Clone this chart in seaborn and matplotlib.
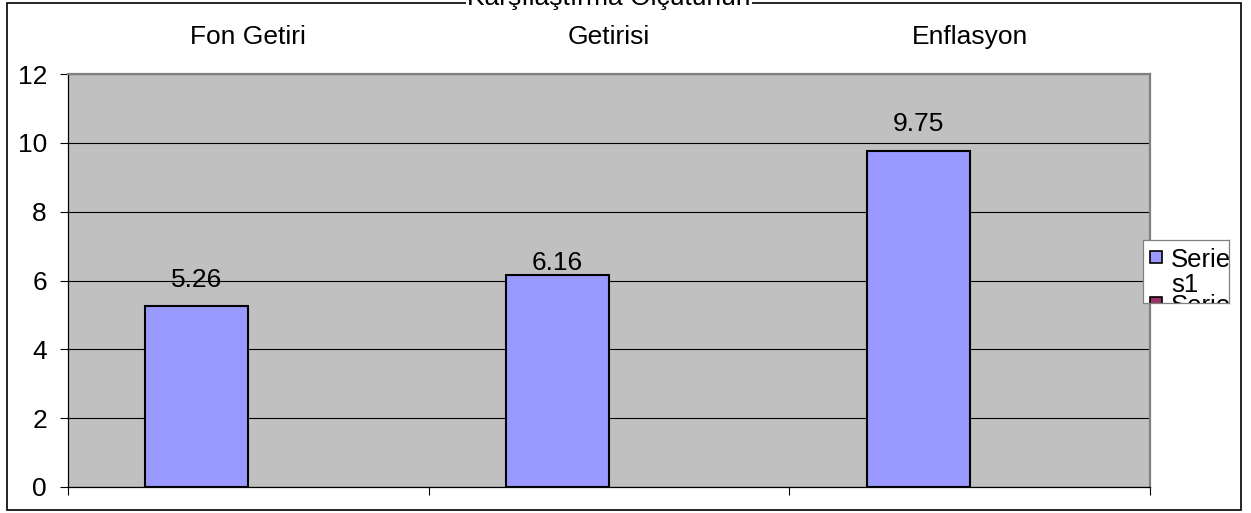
import matplotlib
matplotlib.use("Agg")
import matplotlib.pyplot as plt
import matplotlib.transforms as mtransforms
from matplotlib.patches import Rectangle
import numpy as np
import pandas as pd
import seaborn as sns

# ---- data ----
categories = ["Fon Getiri", "Karşılaştırma Ölçütünün\nGetirisi", "Enflasyon"]
series_names = ["Series1", "Series2"]
series1_values = [5.26, 6.16, 9.75]
series2_values = [np.nan, np.nan, np.nan]
value_labels = ["5.26", "6.16", "9.75"]
y_ticks = [0, 2, 4, 6, 8, 10, 12]
legend_lines = [["Serie", "s1"], ["Serie", "s2"]]

# ---- style ----
sns.set_style("white")
plt.rcParams["font.family"] = ["Liberation Sans", "DejaVu Sans"]
W, H = 1251, 513
FS = 19
bar_color = "#9999FF"
s2_color = "#993366"
plot_bg = "#C0C0C0"
gray_edge = "#808080"
label_offsets_px = [19, 5, 20]

fig = plt.figure(figsize=(W / 100, H / 100), dpi=100)
fig.patch.set_facecolor("white")

# outer chart border
border = Rectangle((7 / W, 1 - 510 / H), 1234 / W, 507 / H, transform=fig.transFigure,
                   fill=False, edgecolor="black", linewidth=1.2, zorder=-1)
fig.add_artist(border)

ax = fig.add_axes([68 / W, (H - 487) / H, (1150 - 68) / W, (487 - 74) / H])
ax.set_facecolor(plot_bg)

df = pd.DataFrame({
    "category": categories * 2,
    "series": [series_names[0]] * len(categories) + [series_names[1]] * len(categories),
    "value": series1_values + series2_values,
})

sns.barplot(data=df, x="category", y="value", hue="series", order=categories,
            hue_order=series_names, palette=[bar_color, s2_color], width=0.571,
            dodge=True, errorbar=None, edgecolor="black", linewidth=1.5,
            saturation=1, legend=False, ax=ax)

ax.set_xlim(-0.5, len(categories) - 0.5)
ax.set_ylim(0, 12)
ax.set_yticks(y_ticks)
ax.set_yticklabels([str(t) for t in y_ticks], fontsize=FS, color="black")
ax.set_xticks(np.arange(len(categories) + 1) - 0.5)
ax.set_xticklabels([""] * (len(categories) + 1))
ax.set_xlabel("")
ax.set_ylabel("")
ax.set_axisbelow(True)
ax.yaxis.grid(True, color="black", linewidth=0.8)
ax.xaxis.grid(False)
ax.tick_params(axis="y", direction="out", length=5.8, width=0.8, color="black",
               pad=9.4, left=True)
ax.tick_params(axis="x", direction="out", length=5.8, width=0.8, color="black",
               bottom=True)

for side in ["left", "bottom"]:
    ax.spines[side].set_color("black")
    ax.spines[side].set_linewidth(0.9)
for side in ["top", "right"]:
    ax.spines[side].set_color(gray_edge)
    ax.spines[side].set_linewidth(1.6)
    ax.spines[side].set_visible(True)

# value labels above series1 bars
for bar, lab, off in zip(ax.containers[0], value_labels, label_offsets_px):
    cx = bar.get_x() + bar.get_width() / 2
    ax.annotate(lab, (cx, bar.get_height()), xytext=(0, off * 0.72),
                textcoords="offset points", ha="center", va="baseline",
                fontsize=FS, color="black")

# category labels at top (blended: x in data, y in figure)
trans = mtransforms.blended_transform_factory(ax.transData, fig.transFigure)
for i, cat in enumerate(categories):
    lines = cat.split("\n")
    n = len(lines)
    for j, line in enumerate(lines):
        base_px = 44 - (n - 1 - j) * 39
        ax.text(i, (H - base_px) / H, line, transform=trans, ha="center", va="baseline",
                fontsize=FS, color="black", clip_on=False,
                bbox=dict(facecolor="white", edgecolor="none", pad=0.5))

# legend box (clipped like the original)
lax = fig.add_axes([1143 / W, (H - 303) / H, 86 / W, 63 / H])
lax.set_xlim(0, 86)
lax.set_ylim(63, 0)
lax.set_xticks([])
lax.set_yticks([])
lax.set_facecolor("white")
for s in lax.spines.values():
    s.set_color(gray_edge)
    s.set_linewidth(0.9)
colors = [bar_color, s2_color]
for k, (lines, col) in enumerate(zip(legend_lines, colors)):
    top = 11 + k * 46
    lax.add_patch(Rectangle((7, top), 12, 12, facecolor=col, edgecolor="black",
                            linewidth=1.2, clip_on=True))
    for j, line in enumerate(lines):
        lax.text(28, top + 16 + j * 25, line, ha="left", va="baseline",
                 fontsize=18.5, color="black", clip_on=True)

fig.savefig("out.png", dpi=100)
